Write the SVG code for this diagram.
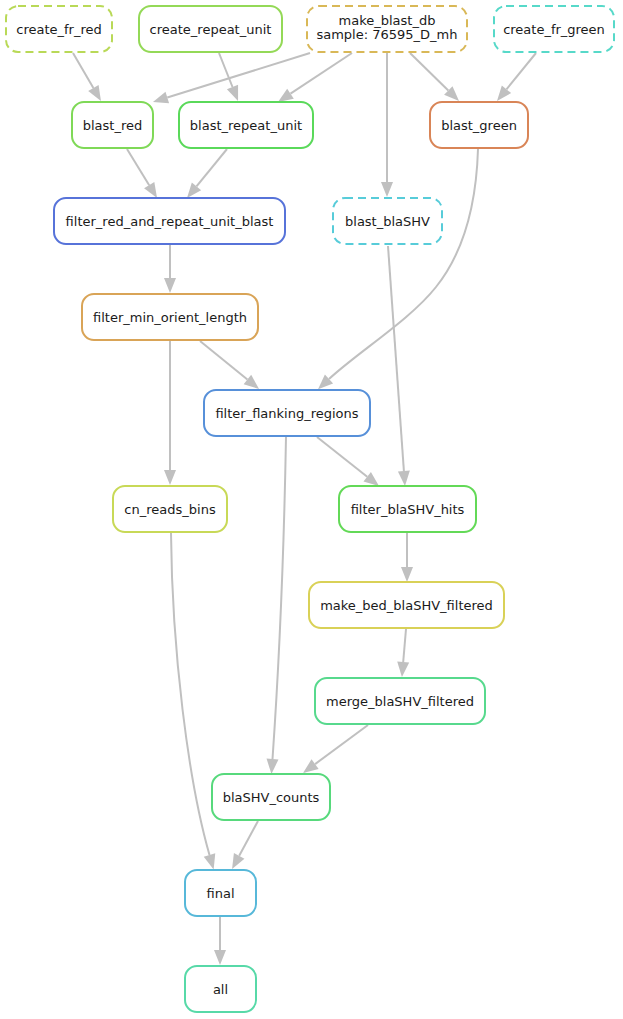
<svg xmlns="http://www.w3.org/2000/svg" width="623" height="1019" viewBox="0 0 623 1019">
  <style>
    .node rect { fill: #ffffff; stroke-width: 2; }
    .node.dashed rect { stroke-dasharray: 8 5; }
    .node text { font-family: "DejaVu Sans", "Noto Sans", sans-serif; font-size: 13px; fill: #1a1a1a; text-anchor: middle; }
    #edges path { fill: none; stroke: #c0c0c0; stroke-width: 2; marker-end: url(#arrow); }
  </style>
  <defs>
    <marker id="arrow" markerUnits="userSpaceOnUse" viewBox="0 0 15 12" refX="0" refY="6" markerWidth="15" markerHeight="12" orient="auto" overflow="visible">
      <path d="M0,0 L15,6 L0,12 Z" fill="#c0c0c0"/>
    </marker>
  </defs>
  <rect width="623" height="1019" fill="#ffffff"/>

  <!-- connectors -->
  <g id="edges">
    <path d="M73,53 L93.4,88.1"/>
    <path d="M219,53 L232.5,87"/>
    <path d="M310,53 L167.3,97.5"/>
    <path d="M352,53 L290.5,93.7"/>
    <path d="M387,53 L387,182"/>
    <path d="M410,53 L448.3,90.5"/>
    <path d="M536,53 L506.5,89.3"/>
    <path d="M127,149 L149.2,185.2"/>
    <path d="M227,149 L196.5,186.4"/>
    <path d="M478,149 C476,215 460,257 436,287 C410,320 358,352 329,379"/>
    <path d="M170,245 L170,278"/>
    <path d="M200,341 L247.4,379.5"/>
    <path d="M170,341 L170,470"/>
    <path d="M388,246 L403.9,471"/>
    <path d="M317,437 L367.2,476.7"/>
    <path d="M286,437 C284,550 278,680 272.5,759"/>
    <path d="M407,533 L407,567"/>
    <path d="M406,629 L403.2,662"/>
    <path d="M368,725 L315.1,764.1"/>
    <path d="M171,533 C172,650 188,780 209.5,855"/>
    <path d="M258,821 L239.2,855.8"/>
    <path d="M220,917 L220,950"/>
  </g>

  <!-- rule nodes -->
  <g id="create_fr_red" class="node dashed">
    <rect x="6" y="6" width="106" height="46" rx="12" stroke="#b9d957"/>
    <text x="59" y="33.5">create_fr_red</text>
  </g>
  <g id="create_repeat_unit" class="node">
    <rect x="139" y="6" width="143" height="46" rx="12" stroke="#94d957"/>
    <text x="210.5" y="33.5">create_repeat_unit</text>
  </g>
  <g id="make_blast_db" class="node dashed">
    <rect x="307" y="6" width="160" height="46" rx="12" stroke="#d9b857"/>
    <text x="387" y="25">make_blast_db</text>
    <text x="387" y="39">sample: 76595_D_mh</text>
  </g>
  <g id="create_fr_green" class="node dashed">
    <rect x="494" y="6" width="120" height="46" rx="12" stroke="#57d9c9"/>
    <text x="554" y="33.5">create_fr_green</text>
  </g>
  <g id="blast_red" class="node">
    <rect x="72" y="102" width="81" height="46" rx="12" stroke="#7fd957"/>
    <text x="112.5" y="129.5">blast_red</text>
  </g>
  <g id="blast_repeat_unit" class="node">
    <rect x="179" y="102" width="134" height="46" rx="12" stroke="#5ad95a"/>
    <text x="246" y="129.5">blast_repeat_unit</text>
  </g>
  <g id="blast_green" class="node">
    <rect x="430" y="102" width="98" height="46" rx="12" stroke="#d98557"/>
    <text x="479" y="129.5">blast_green</text>
  </g>
  <g id="filter_red_and_repeat_unit_blast" class="node">
    <rect x="54" y="198" width="231" height="46" rx="12" stroke="#5773d9"/>
    <text x="169.5" y="225.5">filter_red_and_repeat_unit_blast</text>
  </g>
  <g id="blast_blaSHV" class="node dashed">
    <rect x="333" y="198" width="109" height="46" rx="12" stroke="#57ccd9"/>
    <text x="387.5" y="225.5">blast_blaSHV</text>
  </g>
  <g id="filter_min_orient_length" class="node">
    <rect x="82" y="294" width="176" height="46" rx="12" stroke="#d9a457"/>
    <text x="170" y="321.5">filter_min_orient_length</text>
  </g>
  <g id="filter_flanking_regions" class="node">
    <rect x="204" y="390" width="166" height="46" rx="12" stroke="#5790d9"/>
    <text x="287" y="417.5">filter_flanking_regions</text>
  </g>
  <g id="cn_reads_bins" class="node">
    <rect x="113" y="486" width="114" height="46" rx="12" stroke="#c8d957"/>
    <text x="170" y="513.5">cn_reads_bins</text>
  </g>
  <g id="filter_blaSHV_hits" class="node">
    <rect x="339" y="486" width="137" height="46" rx="12" stroke="#63d957"/>
    <text x="407.5" y="513.5">filter_blaSHV_hits</text>
  </g>
  <g id="make_bed_blaSHV_filtered" class="node">
    <rect x="309" y="582" width="195" height="46" rx="12" stroke="#d9d157"/>
    <text x="406.5" y="609.5">make_bed_blaSHV_filtered</text>
  </g>
  <g id="merge_blaSHV_filtered" class="node">
    <rect x="315" y="678" width="170" height="46" rx="12" stroke="#57d98d"/>
    <text x="400" y="705.5">merge_blaSHV_filtered</text>
  </g>
  <g id="blaSHV_counts" class="node">
    <rect x="212" y="774" width="118" height="46" rx="12" stroke="#57d97c"/>
    <text x="271" y="801.5">blaSHV_counts</text>
  </g>
  <g id="final" class="node">
    <rect x="185" y="870" width="71" height="46" rx="12" stroke="#57b8d9"/>
    <text x="220.5" y="897.5">final</text>
  </g>
  <g id="all" class="node">
    <rect x="185" y="966" width="71" height="46" rx="12" stroke="#57d9a8"/>
    <text x="220.5" y="993.5">all</text>
  </g>
</svg>
